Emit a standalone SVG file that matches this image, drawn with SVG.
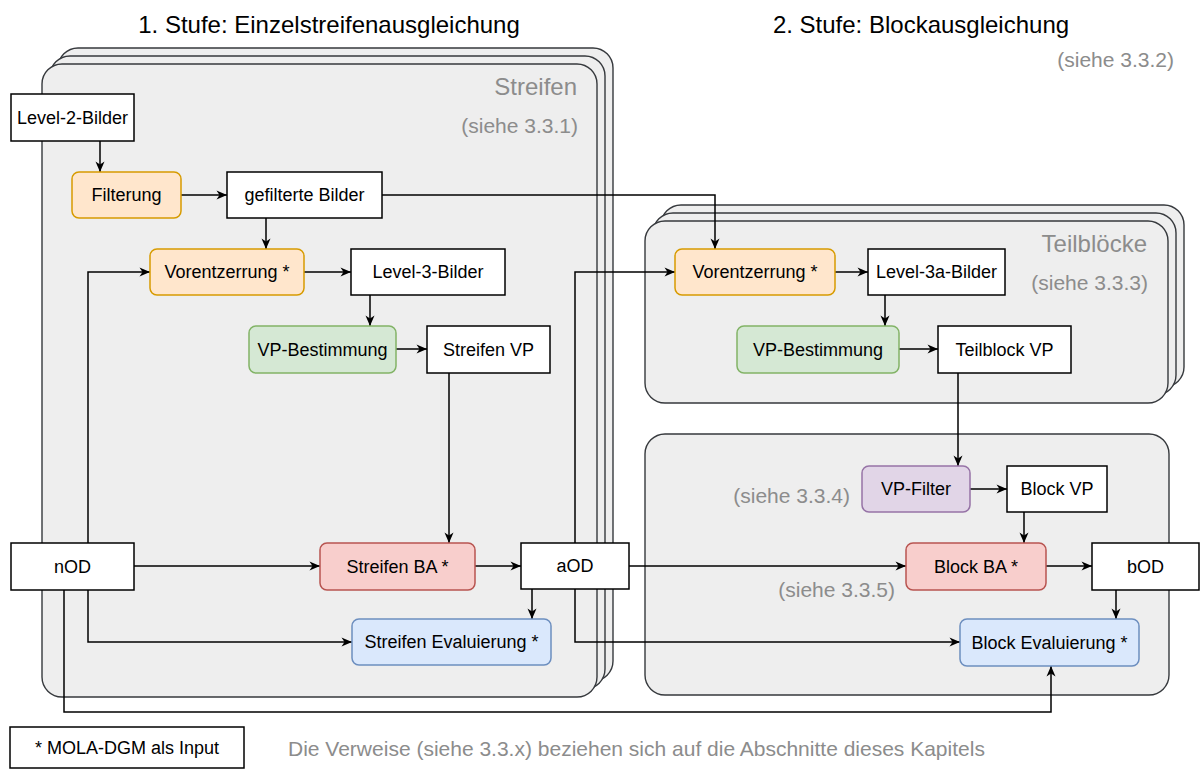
<svg xmlns="http://www.w3.org/2000/svg" width="1200" height="769" viewBox="0 0 1200 769">
  <style>
    text { font-family: "Liberation Sans", Arial, Helvetica, sans-serif; }
    .lbl { font-size: 18px; fill: #000; text-anchor: middle; dominant-baseline: central; }
    .title { font-size: 24px; fill: #000; text-anchor: middle; }
    .grey { fill: #8c8c8c; }
    .big { font-size: 24px; text-anchor: end; }
    .ref { font-size: 21px; }
    .cont { fill: #eeeeee; stroke: #36393d; stroke-width: 1.4; }
    .plain { fill: #ffffff; stroke: #000; stroke-width: 1.5; }
    .orange { fill: #ffe6cc; stroke: #d79b00; stroke-width: 1.5; }
    .green { fill: #d5e8d4; stroke: #82b366; stroke-width: 1.5; }
    .red { fill: #f8cecc; stroke: #b85450; stroke-width: 1.5; }
    .blue { fill: #dae8fc; stroke: #6c8ebf; stroke-width: 1.5; }
    .purple { fill: #e1d5e7; stroke: #9673a6; stroke-width: 1.5; }
    .edge { fill: none; stroke: #000; stroke-width: 1.5; marker-end: url(#arrow); }
    .line { fill: none; stroke: #000; stroke-width: 1.5; }
  </style>
  <defs>
    <marker id="arrow" markerWidth="12" markerHeight="10" refX="11" refY="5" orient="auto" markerUnits="userSpaceOnUse">
      <path d="M0.5,0.5 L11,5 L0.5,9.5 L3.5,5 z" fill="#000"/>
    </marker>
  </defs>

  <rect width="1200" height="769" fill="#ffffff"/>

  <!-- stage headings -->
  <text class="title" x="329" y="33">1. Stufe: Einzelstreifenausgleichung</text>
  <text class="title" x="921" y="33">2. Stufe: Blockausgleichung</text>
  <text class="grey ref" x="1174" y="67" text-anchor="end">(siehe 3.3.2)</text>

  <!-- Streifen: stacked container -->
  <g id="streifen">
    <rect class="cont" x="58" y="48" width="555" height="633" rx="20"/>
    <rect class="cont" x="50" y="56" width="555" height="633" rx="20"/>
    <rect class="cont" x="42" y="64" width="555" height="633" rx="20"/>
    <text class="grey big" x="577" y="95">Streifen</text>
    <text class="grey ref" x="578" y="133" text-anchor="end">(siehe 3.3.1)</text>
  </g>

  <!-- Teilbloecke: stacked container -->
  <g id="teilbloecke">
    <rect class="cont" x="661" y="205" width="523" height="182" rx="20"/>
    <rect class="cont" x="653" y="213" width="523" height="182" rx="20"/>
    <rect class="cont" x="645" y="221" width="523" height="182" rx="20"/>
    <text class="grey big" x="1147" y="252">Teilblöcke</text>
    <text class="grey ref" x="1148" y="290" text-anchor="end">(siehe 3.3.3)</text>
  </g>

  <!-- Block container -->
  <g id="block">
    <rect class="cont" x="645" y="434" width="524" height="261" rx="20"/>
    <text class="grey ref" x="850" y="503" text-anchor="end">(siehe 3.3.4)</text>
    <text class="grey ref" x="895" y="597" text-anchor="end">(siehe 3.3.5)</text>
  </g>

  <!-- connectors -->
  <g id="connectors">
    <path class="edge" d="M100,141 V172"/>
    <path class="edge" d="M181,195 H227"/>
    <path class="edge" d="M266,218 V249"/>
    <path class="edge" d="M382,195 H715 V249"/>
    <path class="edge" d="M304,272 H351"/>
    <path class="edge" d="M370,295 V326"/>
    <path class="edge" d="M396,349 H427"/>
    <path class="edge" d="M449,373 V543"/>
    <path class="edge" d="M88,543 V272 H150"/>
    <path class="edge" d="M134,566 H320"/>
    <path class="edge" d="M88,590 V642 H352"/>
    <path class="edge" d="M64,590 V712 H1051 V666"/>
    <path class="edge" d="M475,566 H521"/>
    <path class="edge" d="M532,589 V619"/>
    <path class="edge" d="M575,543 V272 H675"/>
    <path class="edge" d="M629,566 H906"/>
    <path class="edge" d="M575,589 V642 H960"/>
    <path class="edge" d="M835,272 H868"/>
    <path class="edge" d="M885,295 V326"/>
    <path class="edge" d="M899,349 H938"/>
    <path class="edge" d="M958,373 V466"/>
    <path class="edge" d="M970,489 H1007"/>
    <path class="edge" d="M1024,512 V543"/>
    <path class="edge" d="M1046,566 H1092"/>
    <path class="edge" d="M1116,590 V619"/>
  </g>

  <!-- stage 1 nodes -->
  <g id="level2">
    <rect class="plain" x="11" y="94" width="123" height="47"/>
    <text class="lbl" x="72.5" y="117.5">Level-2-Bilder</text>
  </g>
  <g id="filterung">
    <rect class="orange" x="72" y="172" width="109" height="46" rx="7"/>
    <text class="lbl" x="126.5" y="195">Filterung</text>
  </g>
  <g id="gefiltert">
    <rect class="plain" x="227" y="172" width="155" height="46"/>
    <text class="lbl" x="304.5" y="195">gefilterte Bilder</text>
  </g>
  <g id="vorentzerrung1">
    <rect class="orange" x="150" y="249" width="154" height="46" rx="7"/>
    <text class="lbl" x="227" y="272">Vorentzerrung *</text>
  </g>
  <g id="level3">
    <rect class="plain" x="351" y="249" width="154" height="46"/>
    <text class="lbl" x="428" y="272">Level-3-Bilder</text>
  </g>
  <g id="vpbest1">
    <rect class="green" x="249" y="326" width="147" height="47" rx="7"/>
    <text class="lbl" x="322.5" y="349.5">VP-Bestimmung</text>
  </g>
  <g id="streifenvp">
    <rect class="plain" x="427" y="326" width="123" height="47"/>
    <text class="lbl" x="488.5" y="349.5">Streifen VP</text>
  </g>
  <g id="nod">
    <rect class="plain" x="11" y="543" width="123" height="47"/>
    <text class="lbl" x="72.5" y="566.5">nOD</text>
  </g>
  <g id="streifenba">
    <rect class="red" x="320" y="543" width="155" height="47" rx="7"/>
    <text class="lbl" x="397.5" y="566.5">Streifen BA *</text>
  </g>
  <g id="aod">
    <rect class="plain" x="521" y="543" width="108" height="46"/>
    <text class="lbl" x="575" y="566">aOD</text>
  </g>
  <g id="streifeneval">
    <rect class="blue" x="352" y="619" width="199" height="46" rx="7"/>
    <text class="lbl" x="451.5" y="642">Streifen Evaluierung *</text>
  </g>

  <!-- stage 2 nodes -->
  <g id="vorentzerrung2">
    <rect class="orange" x="675" y="249" width="160" height="46" rx="7"/>
    <text class="lbl" x="755" y="272">Vorentzerrung *</text>
  </g>
  <g id="level3a">
    <rect class="plain" x="868" y="249" width="137" height="46"/>
    <text class="lbl" x="936.5" y="272">Level-3a-Bilder</text>
  </g>
  <g id="vpbest2">
    <rect class="green" x="737" y="326" width="162" height="47" rx="7"/>
    <text class="lbl" x="818" y="349.5">VP-Bestimmung</text>
  </g>
  <g id="teilblockvp">
    <rect class="plain" x="938" y="326" width="133" height="47"/>
    <text class="lbl" x="1004.5" y="349.5">Teilblock VP</text>
  </g>
  <g id="vpfilter">
    <rect class="purple" x="862" y="466" width="108" height="46" rx="7"/>
    <text class="lbl" x="916" y="489">VP-Filter</text>
  </g>
  <g id="blockvp">
    <rect class="plain" x="1007" y="466" width="100" height="46"/>
    <text class="lbl" x="1057" y="489">Block VP</text>
  </g>
  <g id="blockba">
    <rect class="red" x="906" y="543" width="140" height="47" rx="7"/>
    <text class="lbl" x="976" y="566.5">Block BA *</text>
  </g>
  <g id="bod">
    <rect class="plain" x="1092" y="543" width="107" height="47"/>
    <text class="lbl" x="1145.5" y="566.5">bOD</text>
  </g>
  <g id="blockeval">
    <rect class="blue" x="960" y="619" width="179" height="47" rx="7"/>
    <text class="lbl" x="1049.5" y="642.5">Block Evaluierung *</text>
  </g>

  <!-- legend -->
  <g id="legend">
    <rect class="plain" x="10" y="727" width="234" height="41"/>
    <text class="lbl" x="127" y="748">* MOLA-DGM als Input</text>
    <text class="grey ref" x="288" y="756">Die Verweise (siehe 3.3.x) beziehen sich auf die Abschnitte dieses Kapitels</text>
  </g>
</svg>
